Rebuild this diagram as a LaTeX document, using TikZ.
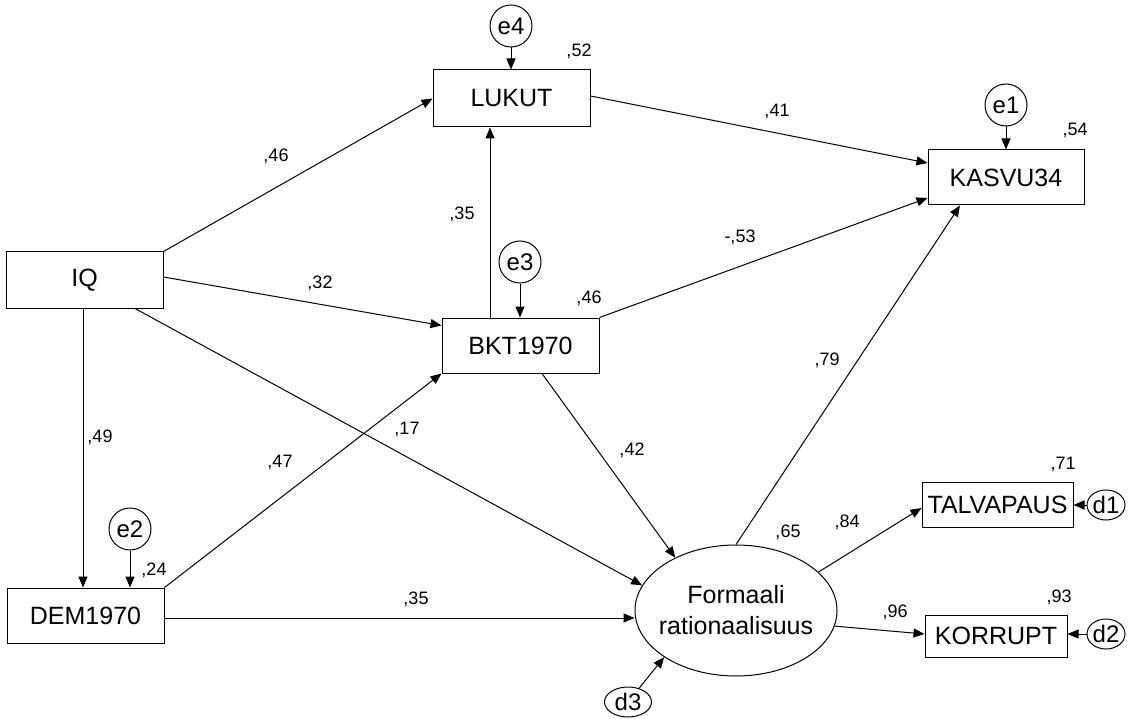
\documentclass[tikz,border=0pt]{standalone}
\usepackage{fontspec}
\setmainfont{Liberation Sans}
\usetikzlibrary{arrows.meta,shapes.geometric,calc}

\begin{document}
\begin{tikzpicture}[x=1pt,y=-1pt,
  var/.style={draw, rectangle, line width=1pt, inner sep=0pt,
    font=\fontsize{25}{30}\selectfont},
  lat/.style={draw, ellipse, line width=1pt, inner xsep=-30pt, inner ysep=0pt,
    minimum width=202pt, minimum height=131pt, align=center,
    font=\fontsize{25}{31}\selectfont},
  err/.style={draw, circle, line width=1pt, inner sep=0pt, minimum size=42pt,
    font=\fontsize{24}{28}\selectfont},
  dist/.style={draw, ellipse, line width=1pt, inner sep=0pt, minimum width=38pt,
    minimum height=30pt, font=\fontsize{24}{28}\selectfont},
  effect/.style={line width=1pt, -{Triangle[length=11pt,width=9pt]}},
  coef/.style={inner sep=0pt, font=\fontsize{18}{20}\selectfont}
]
\useasboundingbox (0,0) rectangle (1137,719);

% observed variables
\node[var, minimum width=157pt, minimum height=57pt] (LUKUT) at (511.5,98.5) {LUKUT};
\node[var, minimum width=156pt, minimum height=55pt] (KASVU) at (1006,177.5) {KASVU34};
\node[var, minimum width=157pt, minimum height=56pt] (IQ) at (84.5,280) {IQ};
\node[var, minimum width=157pt, minimum height=55pt] (BKT) at (520.5,345.5) {BKT1970};
\node[var, minimum width=157pt, minimum height=55pt] (DEM) at (85.5,615.5) {DEM1970};
\node[var, minimum width=151pt, minimum height=45pt] (TALV) at (997.5,504.5) {TALVAPAUS};
\node[var, minimum width=142pt, minimum height=42pt] (KORR) at (996,636) {KORRUPT};

% latent variable
\node[lat] (FR) at (736,610.5) {Formaali\\rationaalisuus};

% residuals
\node[err] (e4) at (511,26) {e4};
\node[err] (e1) at (1006,105) {e1};
\node[err] (e3) at (520,262) {e3};
\node[err] (e2) at (130,529) {e2};
\node[dist] (d1) at (1106,505) {d1};
\node[dist] (d2) at (1106,634) {d2};
\node[dist, minimum width=47pt] (d3) at (628,702) {d3};

% structural paths
\draw[effect] (IQ.north east) -- (LUKUT.west);
\draw[effect] ([yshift=3pt]IQ.east) -- ([yshift=20pt]BKT.west);
\draw[effect] ([xshift=50.5pt]IQ.south) -- (FR.165);
\draw[effect] ([xshift=-1.5pt]IQ.south) -- ([xshift=-1.5pt]IQ.south |- DEM.north);
\draw[effect] (DEM.north east) -- (BKT.south west);
\draw[effect] ([yshift=-2.5pt]DEM.east) -- ([yshift=-2.5pt]DEM.east -| FR.west);
\draw[effect] ([xshift=-30.5pt]BKT.north) -- ([xshift=-30.5pt]BKT.north |- LUKUT.south);
\draw[effect] ([yshift=2.5pt]LUKUT.east) -- ([yshift=14.5pt]KASVU.west);
\draw[effect] (BKT.north east) -- ([yshift=-20.5pt]KASVU.west);
\draw[effect] ([xshift=21.5pt]BKT.south) -- (FR.139);
\draw[effect] (FR.north) -- ([xshift=-46pt]KASVU.south);
\draw[effect] (FR.25) -- ([yshift=-3.5pt]TALV.west);
\draw[effect] (FR.-9) -- ([yshift=2pt]KORR.west);

% residual paths
\draw[effect] (e4) -- (e4 |- LUKUT.north);
\draw[effect] (e1) -- (e1 |- KASVU.north);
\draw[effect] (e3) -- (e3 |- BKT.north);
\draw[effect] (e2) -- (e2 |- DEM.north);
\draw[effect] (d1) -- (d1 -| TALV.east);
\draw[effect] (d2) -- (d2 -| KORR.east);
\draw[effect] (d3) -- (FR.213);

% coefficients and squared multiple correlations
\node[coef] (r52) at (579,51) {,52};
\node[coef] (r54) at (1075,130) {,54};
\node[coef] (r46) at (589,298) {,46};
\node[coef] (r24) at (154,570) {,24};
\node[coef] (r65) at (788,532) {,65};
\node[coef] (r71) at (1063,464) {,71};
\node[coef] (r93) at (1059,597) {,93};
\node[coef] (c96) at (895,612) {,96};
\node[coef] (c84) at (847,522) {,84};
\node[coef] (c79) at (827,360) {,79};
\node[coef] (c46) at (276,156) {,46};
\node[coef] (c32) at (320,283) {,32};
\node[coef] (c41) at (777,111) {,41};
\node[coef] (c53) at (740,237) {-,53};
\node[coef] (c17) at (407,429) {,17};
\node[coef] (c47) at (280,462) {,47};
\node[coef] (c42) at (632,450) {,42};
\node[coef] (c35a) at (416,599) {,35};
\node[coef] (c49) at (100,437) {,49};
\node[coef] (c35b) at (462,214) {,35};
\end{tikzpicture}
\end{document}
